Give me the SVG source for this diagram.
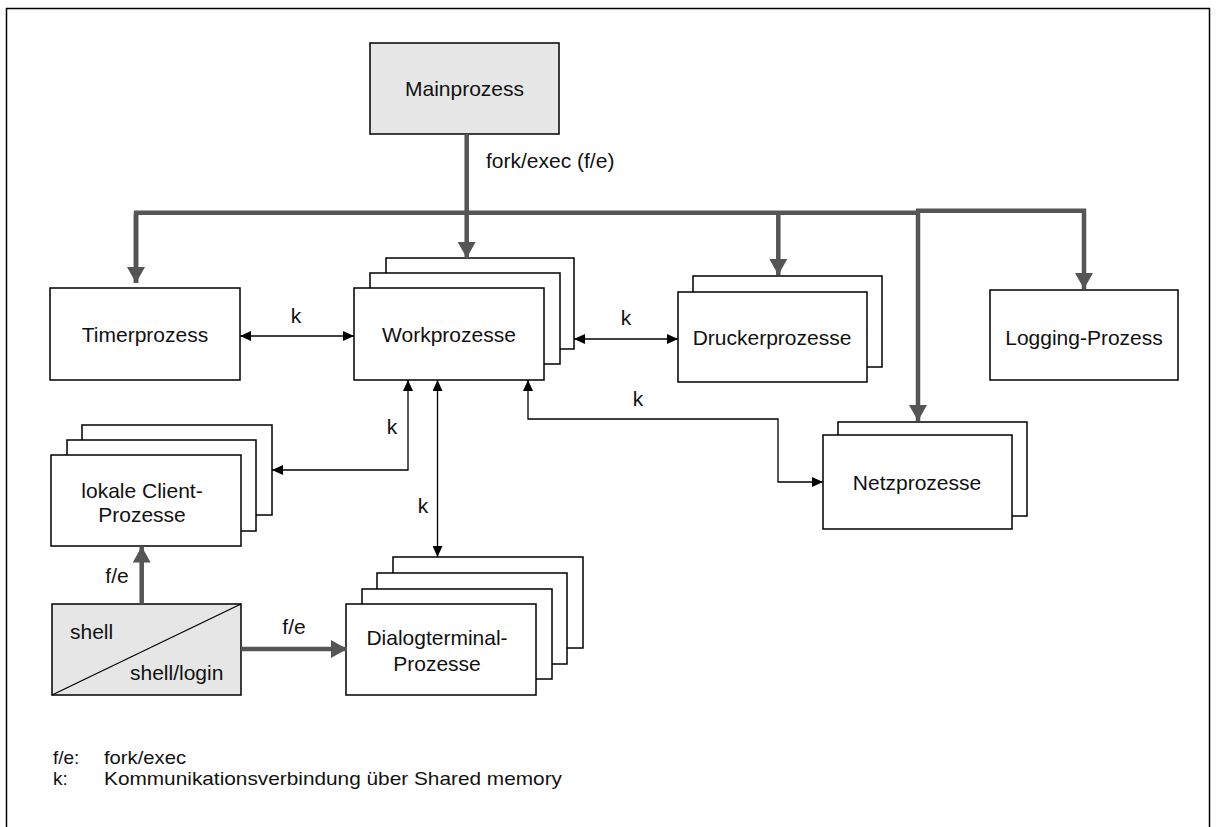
<svg xmlns="http://www.w3.org/2000/svg" width="1216" height="827" viewBox="0 0 1216 827">
<style>
text{font-family:"Liberation Sans",Arial,sans-serif;fill:#111;}
.lbl{font-size:21px;text-anchor:middle;}
.sm{font-size:21px;}
.leg{font-size:19px;}
.box{fill:#fff;stroke:#000;stroke-width:1.5;}
.gbox{fill:#e6e6e6;stroke:#000;stroke-width:1.5;}
.thick{fill:none;stroke:#555;stroke-width:4.5;}
.thin{fill:none;stroke:#000;stroke-width:1.3;}
.frame{fill:none;stroke:#000;stroke-width:1.5;}
</style>
<defs>
<marker id="ah" markerUnits="userSpaceOnUse" markerWidth="18" markerHeight="18" viewBox="0 0 16 18" refX="16" refY="9" orient="auto">
<path d="M0,0 L16,9 L0,18 Z" fill="#555"/>
</marker>
<marker id="at" markerUnits="userSpaceOnUse" markerWidth="11" markerHeight="10" viewBox="0 0 11 10" refX="11" refY="5" orient="auto-start-reverse">
<path d="M0,0 L11,5 L0,10 Z" fill="#000"/>
</marker>
</defs>
<path class="frame" d="M6.5,827 L6.5,8.5 L1209.5,8.5 L1209.5,827"/>

<g id="main">
<rect class="gbox" x="370" y="43" width="189" height="91"/>
<text class="lbl" x="464.5" y="96">Mainprozess</text>
</g>

<g id="timer">
<rect class="box" x="50" y="288" width="190" height="92"/>
<text class="lbl" x="145" y="342">Timerprozess</text>
</g>

<g id="work">
<rect class="box" x="386" y="258" width="188" height="91"/>
<rect class="box" x="370" y="273" width="190" height="91"/>
<rect class="box" x="354" y="288" width="190" height="92"/>
<text class="lbl" x="449" y="342">Workprozesse</text>
</g>

<g id="drucker">
<rect class="box" x="693" y="276" width="189" height="91"/>
<rect class="box" x="678" y="292" width="189" height="90"/>
<text class="lbl" x="772" y="345">Druckerprozesse</text>
</g>

<g id="logging">
<rect class="box" x="990" y="290" width="188" height="90"/>
<text class="lbl" x="1084" y="345">Logging-Prozess</text>
</g>

<g id="netz">
<rect class="box" x="838" y="422" width="189" height="94"/>
<rect class="box" x="823" y="435" width="189" height="94"/>
<text class="lbl" x="917" y="490">Netzprozesse</text>
</g>

<g id="client">
<rect class="box" x="82" y="425" width="190" height="90"/>
<rect class="box" x="67" y="440" width="189" height="91"/>
<rect class="box" x="51" y="455" width="190" height="91"/>
<text class="lbl" x="142" y="498">lokale Client-</text>
<text class="lbl" x="142" y="522">Prozesse</text>
</g>

<g id="shell">
<rect class="gbox" x="52" y="604" width="189" height="91"/>
<line x1="52" y1="695" x2="241" y2="604" stroke="#000" stroke-width="1.3"/>
<text class="sm" x="70" y="639">shell</text>
<text class="sm" x="130" y="680">shell/login</text>
</g>

<g id="dialog">
<rect class="box" x="393" y="557" width="190" height="91"/>
<rect class="box" x="377" y="573" width="190" height="91"/>
<rect class="box" x="362" y="589" width="190" height="90"/>
<rect class="box" x="346" y="604" width="190" height="91"/>
<text class="lbl" x="437" y="645">Dialogterminal-</text>
<text class="lbl" x="437" y="671">Prozesse</text>
</g>

<g id="connectors">
<path class="thick" d="M466.7,134 L466.7,258" marker-end="url(#ah)"/>
<path class="thick" d="M136,283 L136,212.7 L918,212.7 L918,421" marker-end="url(#ah)"/>
<path class="thick" d="M136,214 L136,283" marker-end="url(#ah)"/>
<path class="thick" d="M778.3,212.7 L778.3,275" marker-end="url(#ah)"/>
<path class="thick" d="M916,210.7 L1084,210.7 L1084,289" marker-end="url(#ah)"/>
<path class="thick" d="M141.7,604 L141.7,546.5" marker-end="url(#ah)"/>
<path class="thick" d="M241,649 L347,649" marker-end="url(#ah)"/>

<path class="thin" d="M240,336 L354,336" marker-start="url(#at)" marker-end="url(#at)"/>
<path class="thin" d="M574,339 L678,339" marker-start="url(#at)" marker-end="url(#at)"/>
<path class="thin" d="M408,380 L408,470 L272,470" marker-start="url(#at)" marker-end="url(#at)"/>
<path class="thin" d="M437.5,380 L437.5,557" marker-start="url(#at)" marker-end="url(#at)"/>
<path class="thin" d="M528,380 L528,419 L778,419 L778,482 L823,482" marker-start="url(#at)" marker-end="url(#at)"/>

<text class="lbl" x="296" y="323">k</text>
<text class="lbl" x="626" y="325">k</text>
<text class="lbl" x="392" y="434">k</text>
<text class="lbl" x="423" y="513">k</text>
<text class="lbl" x="638" y="406">k</text>
<text class="sm" x="486" y="168">fork/exec (f/e)</text>
<text class="lbl" x="117" y="583">f/e</text>
<text class="lbl" x="294" y="634">f/e</text>
</g>

<g id="legend">
<text class="leg" x="53" y="764">f/e:</text>
<text class="leg" x="104" y="764" textLength="82" lengthAdjust="spacingAndGlyphs">fork/exec</text>
<text class="leg" x="53" y="785">k:</text>
<text class="leg" x="104" y="785" textLength="458" lengthAdjust="spacingAndGlyphs">Kommunikationsverbindung über Shared memory</text>
</g>
</svg>
